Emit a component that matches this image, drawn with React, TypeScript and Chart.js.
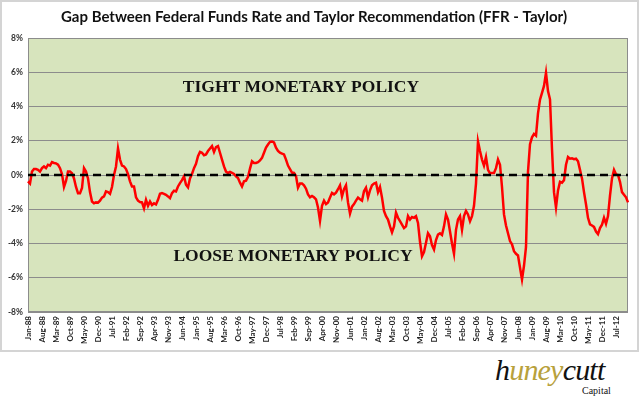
import React, { useEffect, useRef } from "react";
import { Chart, registerables } from "chart.js";

Chart.register(...registerables);

// ---- categories ----
const MONTHS = ["Jan", "Feb", "Mar", "Apr", "May", "Jun", "Jul", "Aug", "Sep", "Oct", "Nov", "Dec"];
const START_YEAR = 1988;
const LABEL_EVERY = 7;

// ---- series values (FFR - Taylor, %), monthly from Jan-88 ----
const GAP_1988_1992 = [
  -0.37, -0.5, 0.2, 0.35, 0.35, 0.3, 0.2, 0.4, 0.5, 0.4, 0.6, 0.55,
  0.75, 0.7, 0.68, 0.6, 0.4, 0.05, -0.7, -0.35, 0.2, 0.2, 0.1, -0.2,
  -0.7, -1.06, -1.06, -0.76, 0.4, 0.2, -0.2, -1.0, -1.55, -1.65, -1.6, -1.62,
  -1.5, -1.32, -1.25, -0.96, -1.0, -1.1, -0.7, 0.0, 0.5, 1.55, 0.9, 0.55,
  0.5, 0.35, 0.05, -0.37, -0.67, -0.67, -1.3, -1.5, -1.58, -1.6, -1.95, -1.45,
];
const GAP_1993_1997 = [
  -1.8, -1.55, -1.75, -1.65, -1.72, -1.45, -1.1, -1.06, -1.1, -1.16, -1.25, -1.35,
  -1.06, -0.92, -0.96, -0.67, -0.47, -0.3, -0.08, -0.57, -0.72, -0.2, 0.06, 0.4,
  0.65, 1.1, 1.35, 1.3, 1.15, 1.2, 1.4, 1.55, 1.69, 1.35, 1.63, 1.69,
  1.3, 0.9, 0.5, 0.2, 0.12, 0.18, 0.12, 0.06, -0.08, -0.18, -0.45, -0.67,
  -0.37, -0.33, -0.1, 0.37, 0.8, 0.7, 0.7, 0.75, 0.85, 1.0, 1.3, 1.6,
];
const GAP_1998_2002 = [
  1.78, 1.94, 1.96, 1.9, 1.6, 1.41, 1.3, 1.25, 1.2, 0.9, 0.55, 0.35,
  0.14, 0.12, -0.06, -0.74, -0.5, -0.5, -0.6, -0.8, -1.13, -1.3, -1.22, -1.3,
  -1.42, -1.9, -2.68, -1.8, -1.5, -1.7, -1.6, -1.32, -1.05, -1.13, -1.03, -0.83,
  -0.6, -1.25, -0.83, -0.6, -1.6, -2.25, -1.85, -1.7, -1.5, -1.32, -1.42, -1.5,
  -0.95, -0.74, -1.3, -0.9, -0.6, -0.5, -0.45, -1.0, -0.7, -1.32, -2.1, -2.4,
];
const GAP_2003_2007 = [
  -2.6, -3.0, -3.35, -3.0, -2.2, -2.5, -2.7, -2.9, -3.1, -3.0, -2.4, -2.6,
  -2.45, -2.5, -2.4, -2.8, -3.9, -4.74, -4.5, -3.96, -3.4, -3.57, -4.1, -4.35,
  -3.8, -3.48, -3.4, -3.5, -3.0, -2.3, -2.6, -3.3, -4.0, -4.6, -3.2, -2.6,
  -2.4, -3.2, -2.4, -2.1, -2.3, -2.7, -2.4, -1.8, -0.5, 1.96, 1.4, 0.9,
  0.55, 1.05, 0.3, 0.1, 0.12, 0.12, 0.4, 0.9, 0.6, -0.7, -2.3, -2.95,
];
const GAP_2008_2013 = [
  -3.4, -3.86, -4.05, -4.45, -4.6, -4.7, -5.4, -6.1, -5.3, -4.2, 0.2, 1.8,
  2.2, 2.4, 2.3, 3.6, 4.4, 4.8, 5.2, 5.97, 4.9, 4.42, 1.5, -1.0,
  -1.9, -0.9, -0.4, -0.45, -0.3, 0.6, 1.05, 0.95, 0.97, 0.92, 0.95, 0.8,
  0.3, -0.2, -1.0, -1.71, -2.5, -2.88, -2.95, -3.03, -3.3, -3.45, -3.1, -2.9,
  -2.5, -2.85, -2.4, -1.2, -0.2, 0.3, 0.04, 0.0, -0.4, -1.0, -1.15, -1.3,
  -1.6,
];
const GAP = [...GAP_1988_1992, ...GAP_1993_1997, ...GAP_1998_2002, ...GAP_2003_2007, ...GAP_2008_2013];

const CATEGORIES = GAP.map((_, i) => {
  const m = MONTHS[i % 12];
  const y = String((START_YEAR + Math.floor(i / 12)) % 100).padStart(2, "0");
  return `${m}-${y}`;
});
const ZERO_LINE = GAP.map(() => 0);

// ---- axis ----
const Y_MIN = -8;
const Y_MAX = 8;
const Y_STEP = 2;

const TITLE = "Gap Between Federal Funds Rate and Taylor Recommendation (FFR - Taylor)";
const TIGHT = "TIGHT MONETARY POLICY";
const LOOSE = "LOOSE MONETARY POLICY";

const W = 640;
const H = 352;

export default function App() {
  const ref = useRef<HTMLCanvasElement | null>(null);

  useEffect(() => {
    if (!ref.current) return;
    const plugin = {
      id: "deco",
      beforeDraw(chart: any) {
        const { ctx, chartArea } = chart;
        const { left, top, right, bottom } = chartArea;
        ctx.save();
        ctx.fillStyle = "#d7e4bd";
        ctx.fillRect(left, top, right - left, bottom - top);
        ctx.restore();
      },
      beforeDatasetsDraw(chart: any) {
        const { ctx, chartArea } = chart;
        const { left, top, right, bottom } = chartArea;
        ctx.save();
        ctx.strokeStyle = "#8c8c8c";
        ctx.lineWidth = 1;
        ctx.strokeRect(Math.round(left) + 0.5, Math.round(top) + 0.5, right - left - 1, bottom - top - 1);
        ctx.restore();
      },
      afterDraw(chart: any) {
        const { ctx } = chart;
        ctx.save();
        ctx.fillStyle = "#111";
        ctx.textAlign = "center";
        ctx.textBaseline = "middle";
        ctx.font = "bold 15px Lato";
        ctx.fillText(TITLE, 314, 17);
        ctx.font = "bold 17.5px 'Liberation Serif'";
        ctx.fillText(TIGHT, 301, 87);
        ctx.fillText(LOOSE, 293, 256);
        ctx.restore();
      },
    };

    const chart = new Chart(ref.current, {
      type: "line",
      data: {
        labels: CATEGORIES,
        datasets: [
          {
            data: ZERO_LINE,
            borderColor: "#000",
            borderWidth: 2.5,
            borderDash: [8, 5],
            pointRadius: 0,
            tension: 0,
          },
          {
            data: GAP,
            borderColor: "#ff0000",
            borderWidth: 2.5,
            pointRadius: 0,
            tension: 0,
          },
        ],
      },
      options: {
        animation: false,
        responsive: false,
        devicePixelRatio: 1,
        layout: { padding: { top: 38, left: 0, right: 12, bottom: 0 } },
        plugins: { legend: { display: false }, tooltip: { enabled: false }, title: { display: false } },
        scales: {
          x: {
            type: "category",
            offset: false,
            grid: { display: false, drawTicks: false },
            border: { display: false },
            ticks: {
              autoSkip: false,
              minRotation: 90,
              maxRotation: 90,
              padding: 4,
              color: "#222",
              font: { family: "Lato", size: 8, weight: "bold" },
              callback: (_v: any, idx: number) => (idx % LABEL_EVERY === 0 ? CATEGORIES[idx] : null),
            },
            afterFit: (s: any) => {
              s.height = H - 312;
            },
          },
          y: {
            min: Y_MIN,
            max: Y_MAX,
            grid: { color: "#8c8c8c", lineWidth: 1, drawTicks: false },
            border: { display: false },
            ticks: {
              stepSize: Y_STEP,
              padding: 5,
              color: "#333",
              font: { family: "Lato", size: 8.5, weight: "bold" },
              callback: (v: any) => `${v}%`,
            },
            afterFit: (s: any) => {
              s.width = 28;
            },
          },
        },
      },
      plugins: [plugin],
    });
    return () => chart.destroy();
  }, []);

  return (
    <div style={{ position: "fixed", left: 0, top: 0, width: 640, height: 397, background: "#fff", overflow: "hidden" }}>
      <div
        style={{
          position: "absolute",
          left: 0,
          top: 0,
          width: 639,
          height: 352,
          border: "2px solid #d4d4d4",
          boxSizing: "border-box",
        }}
      />
      <canvas ref={ref} width={W} height={H} style={{ position: "absolute", left: 0, top: 0, width: W, height: H }} />
      <div
        style={{
          position: "absolute",
          left: 495,
          top: 355,
          fontFamily: "'Liberation Serif', serif",
          fontStyle: "italic",
          fontSize: 30,
          lineHeight: "30px",
          color: "#111",
          whiteSpace: "nowrap",
          letterSpacing: -0.8,
        }}
      >
        <span>h</span>
        <span style={{ color: "#b8a13c" }}>uney</span>
        <span>cutt</span>
      </div>
      <div
        style={{
          position: "absolute",
          left: 582,
          top: 386,
          fontFamily: "'Liberation Serif', serif",
          fontSize: 10,
          lineHeight: "10px",
          color: "#111",
          whiteSpace: "nowrap",
        }}
      >
        Capital
      </div>
    </div>
  );
}
